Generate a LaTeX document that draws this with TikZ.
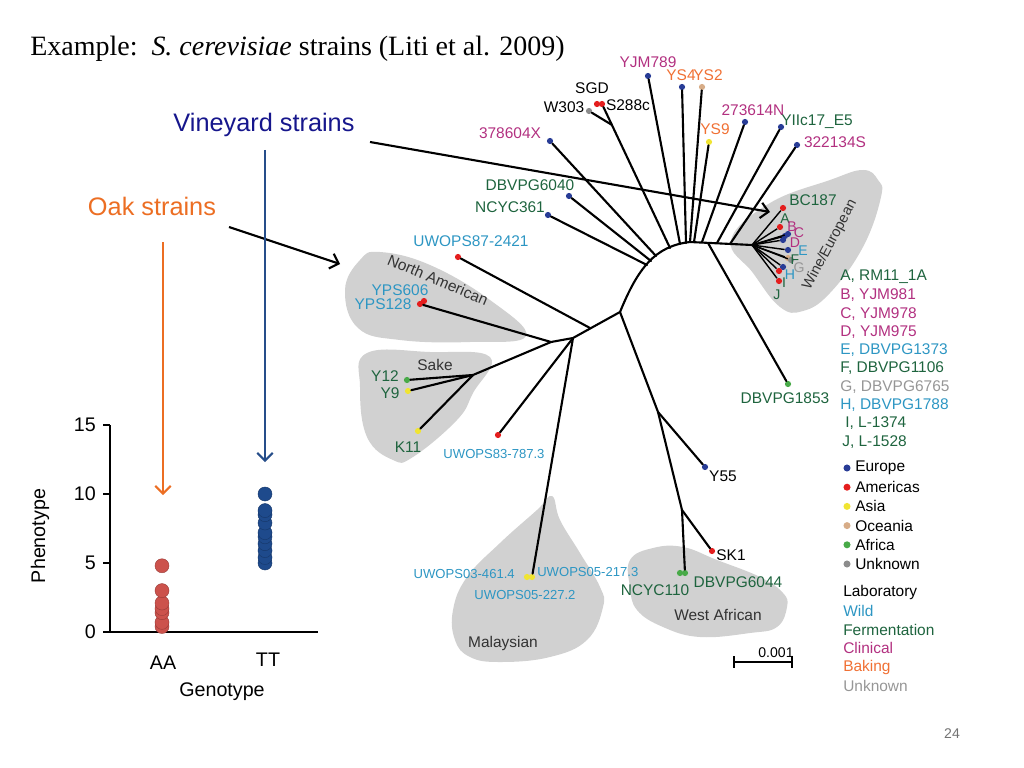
\documentclass[tikz,border=0pt]{standalone}
\usepackage{fontspec}
\setmainfont{Liberation Sans}
\newfontfamily\titlefont{Liberation Serif}
\usetikzlibrary{positioning,arrows.meta}

% colours of the slide
\definecolor{vineyard}{RGB}{22,22,140}
\definecolor{oak}{RGB}{236,110,35}
\definecolor{vineline}{RGB}{38,78,138}
\definecolor{aadot}{RGB}{204,82,76}
\definecolor{ttdot}{RGB}{30,74,140}
% strain source (text colours)
\definecolor{wild}{RGB}{45,150,195}
\definecolor{ferment}{RGB}{30,100,62}
\definecolor{clinical}{RGB}{178,48,128}
\definecolor{baking}{RGB}{240,112,52}
\definecolor{unknowntxt}{RGB}{150,150,150}
% geographic origin (dot colours)
\definecolor{europe}{RGB}{40,60,150}
\definecolor{americas}{RGB}{228,30,30}
\definecolor{asia}{RGB}{240,228,50}
\definecolor{oceania}{RGB}{215,172,135}
\definecolor{africa}{RGB}{72,170,72}
\definecolor{unknowndot}{RGB}{140,140,140}

\tikzset{
  leaf/.style={circle, fill=#1, inner sep=0pt, minimum size=4.4pt},
  branch/.style={line width=1.5pt, line cap=round},
  strain/.style={font=\fontsize{11}{12}\selectfont, inner sep=0pt},
  tiny strain/.style={font=\fontsize{9.3}{10}\selectfont, inner sep=0pt},
  letter/.style={font=\fontsize{10}{10}\selectfont, inner sep=0pt},
  clade/.style={fill=black!18},
  clade name/.style={font=\fontsize{11}{12}\selectfont, text=black!80, inner sep=0pt},
  pointer/.style={line width=1.5pt, -{Straight Barb[length=5.5pt,width=11pt,line width=1.5pt]}},
  plotdot/.style={circle, fill=#1, draw=#1!75!black, line width=0.3pt, inner sep=0pt, minimum size=10pt},
  axislabel/.style={font=\fontsize{14}{15}\selectfont, inner sep=0pt},
}

\begin{document}
\begin{tikzpicture}[x=0.025cm, y=-0.025cm]
\useasboundingbox (0,0) rectangle (1024,768);

% title
\node[anchor=base west, font=\titlefont\fontsize{19.9}{22}\selectfont, inner sep=0pt] (title) at (30,56)
  {Example:\ \ \textit{S. cerevisiae} strains (Liti et al. 2009)};

%%%%%%%%%%%%%%%%%%%%%%%%%%%%%%%%%%%%%%%%%%%%%%%%%%%%%%%%%
% clade shading (behind the tree)
\fill[clade] plot[smooth cycle, tension=0.7] coordinates
  {(731,240) (770,203) (830,180) (863,170) (878,180) (881,197) (863,247) (830,293) (803,311) (780,307) (753,273)};
\fill[clade] plot[smooth cycle, tension=0.7] coordinates
  {(345,290) (360,260) (380,252) (430,265) (490,300) (526,336) (470,342) (400,340) (358,328)};
\fill[clade] plot[smooth cycle, tension=0.7] coordinates
  {(367,353) (430,352) (490,357) (473,393) (457,420) (413,457) (393,460) (367,437) (360,387)};
\fill[clade] plot[smooth cycle, tension=0.7] coordinates
  {(552,496) (537,510) (500,543) (467,577) (453,610) (455,640) (470,657) (500,662) (550,657) (587,640) (603,607) (600,587) (580,553) (560,520)};
\fill[clade] plot[smooth cycle, tension=0.7] coordinates
  {(630,560) (653,548) (683,547) (717,560) (760,577) (783,593) (787,607) (777,627) (750,633) (700,637) (663,627) (637,610) (630,587)};

%%%%%%%%%%%%%%%%%%%%%%%%%%%%%%%%%%%%%%%%%%%%%%%%%%%%%%%%%
% leaves
\node[leaf=europe] (yjm789) at (648,76) {};
\node[leaf=europe] (ys4) at (682,87) {};
\node[leaf=oceania] (ys2) at (702,87) {};
\node[leaf=asia] (ys9) at (709,142) {};
\node[leaf=europe] (n273614) at (745,122) {};
\node[leaf=europe] (yiic) at (781,127) {};
\node[leaf=europe] (s322134) at (797,145) {};
\node[leaf=europe] (x378604) at (550,141) {};
\node[leaf=unknowndot] (w303) at (589,111) {};
\node[leaf=americas] (sgd) at (597,104) {};
\node[leaf=americas] (s288c) at (602,104) {};
\node[leaf=europe] (dbvpg6040) at (569,196) {};
\node[leaf=europe] (ncyc361) at (548,215) {};
\node[leaf=americas] (uwops87) at (458,257) {};
\node[leaf=americas] (yps128) at (420,304) {};
\node[leaf=americas] (yps606) at (424,301) {};
\node[leaf=africa] (y12) at (407,380) {};
\node[leaf=asia] (y9) at (408,391) {};
\node[leaf=asia] (k11) at (418,431) {};
\node[leaf=americas] (uwops83) at (498,435) {};
\node[leaf=asia] (uwops03) at (527,577) {};
\node[leaf=asia] (uwops05) at (532,577) {};
\node[leaf=europe] (y55) at (705,467) {};
\node[leaf=americas] (sk1) at (712,551) {};
\node[leaf=africa] (ncyc110) at (680,573) {};
\node[leaf=africa] (dbvpg6044) at (685,573) {};
\node[leaf=africa] (dbvpg1853) at (788,384) {};
% wine/european fan
\node[leaf=americas] (bc187) at (783,208) {};
\node[leaf=americas] (wA) at (780,227) {};
\node[leaf=europe] (wB) at (785,236) {};
\node[leaf=europe] (wC) at (788,234) {};
\node[leaf=europe] (wD) at (783,240) {};
\node[leaf=europe] (wE) at (788,250) {};
\node[leaf=oceania] (wF) at (788,258) {};
\node[leaf=unknowndot] (wG) at (791,260) {};
\node[leaf=europe] (wH) at (783,267) {};
\node[leaf=americas] (wI) at (779,271) {};
\node[leaf=americas] (wJ) at (779,281) {};

% inner points of the tree
\coordinate (r0) at (620,312);
\coordinate (r1) at (690,242);
\coordinate (w0) at (752,245);
\coordinate (n1) at (573,338);
\coordinate (n2) at (551,342);
\coordinate (s0) at (473,375);
\coordinate (j1) at (658,412);
\coordinate (j2) at (682,510);
\coordinate (u87) at (590,328);
\coordinate (wsplit) at (612,125);

% branches
\draw[branch] (r0) .. controls (638,268) and (655,246) .. (r1) -- (w0);
\draw[branch] (yjm789) -- (680,244);
\draw[branch] (ys4) -- (686,243);
\draw[branch] (ys2) -- (690,242);
\draw[branch] (ys9) -- (694,242);
\draw[branch] (n273614) -- (702,242);
\draw[branch] (yiic) -- (717,243);
\draw[branch] (s322134) -- (730,244);
\draw[branch] (s288c) -- (670,248);
\draw[branch] (w303) -- (wsplit);
\draw[branch] (x378604) -- (656,256);
\draw[branch] (dbvpg6040) -- (651,261);
\draw[branch] (ncyc361) -- (647,265);
\draw[branch] (dbvpg1853) -- (708,243);
\foreach \w in {bc187,wA,wB,wC,wD,wE,wF,wG,wH,wI,wJ}
  \draw[line width=1pt] (w0) -- (\w);
\draw[branch] (r0) -- (n1) -- (n2) -- (yps128);
\draw[branch] (uwops87) -- (u87);
\draw[branch] (n2) -- (s0) -- (y12);
\draw[branch] (s0) -- (y9);
\draw[branch] (s0) -- (k11);
\draw[branch] (n1) -- (uwops83);
\draw[branch] (n1) -- (uwops05);
\draw[branch] (r0) -- (j1) -- (y55);
\draw[branch] (j1) -- (j2) -- (sk1);
\draw[branch] (j2) -- (dbvpg6044);

%%%%%%%%%%%%%%%%%%%%%%%%%%%%%%%%%%%%%%%%%%%%%%%%%%%%%%%%%
% strain names
\node[strain, text=clinical] (tyjm789) at (648,62) {YJM789};
\node[strain, text=baking] (tys4) at (681,75) {YS4};
\node[strain, text=baking] (tys2) at (708,75) {YS2};
\node[strain, text=baking] (tys9) at (715,129) {YS9};
\node[strain, text=clinical] (t273614) at (753,110) {273614N};
\node[strain, text=ferment] (tyiic) at (817,122) {YIIc17\_E5};
\node[strain, text=clinical] (t322134) at (835,142) {322134S};
\node[strain, text=clinical] (t378604) at (510,133) {378604X};
\node[strain] (tsgd) at (592,88) {SGD};
\node[strain] (tw303) at (564,107) {W303};
\node[strain] (ts288c) at (628,105) {S288c};
\node[strain, text=ferment] (t6040) at (530,185) {DBVPG6040};
\node[strain, text=ferment] (t361) at (510,207) {NCYC361};
\node[strain, text=wild] (tuwops87) at (471,241) {UWOPS87-2421};
\node[strain, text=wild] (typs606) at (400,290) {YPS606};
\node[strain, text=wild] (typs128) at (383,304) {YPS128};
\node[strain, text=ferment] (ty12) at (385,376) {Y12};
\node[strain, text=ferment] (ty9) at (390,393) {Y9};
\node[strain, text=ferment] (tk11) at (408,447) {K11};
\node[tiny strain, text=wild] (tuwops83) at (494,454) {UWOPS83-787.3};
\node[tiny strain, text=wild, anchor=east] (tuwops03) at (515,574) {UWOPS03-461.4};
\node[tiny strain, text=wild, anchor=west] (tuwops05a) at (537,572) {UWOPS05-217.3};
\node[tiny strain, text=wild] (tuwops05b) at (525,595) {UWOPS05-227.2};
\node[strain] (ty55) at (723,476) {Y55};
\node[strain] (tsk1) at (731,555) {SK1};
\node[strain, text=ferment] (t110) at (655,590) {NCYC110};
\node[strain, text=ferment] (t6044) at (738,582) {DBVPG6044};
\node[strain, text=ferment] (t1853) at (785,398) {DBVPG1853};
\node[strain, text=ferment] (tbc187) at (813,200) {BC187};
\node[letter, text=ferment] (tA) at (785,219) {A};
\node[letter, text=clinical] (tB) at (792,227) {B};
\node[letter, text=clinical] (tC) at (799,233) {C};
\node[letter, text=clinical] (tD) at (795,243) {D};
\node[letter, text=wild] (tE) at (803,251) {E};
\node[letter, text=ferment] (tF) at (795,260) {F};
\node[letter, text=unknowntxt] (tG) at (799,268) {G};
\node[letter, text=wild] (tH) at (790,275) {H};
\node[letter, text=ferment] (tI) at (784,283) {I};
\node[letter, text=ferment] (tJ) at (777,295) {J};

% clade names
\node[clade name, rotate=62, font=\fontsize{10.3}{11}\selectfont] (wine) at (830,245) {Wine/European};
\node[clade name, rotate=-23] (northam) at (438,280) {North American};
\node[clade name] (sake) at (435,365) {Sake};
\node[clade name] (malay) at (503,643) {Malaysian};
\node[clade name] (westaf) at (718,615) {West African};

% scale bar
\coordinate (barL) at (733,662);
\coordinate (barR) at (793,662);
\draw[line width=1.3pt, {Bar[width=8pt]}-{Bar[width=8pt]}] (barL) -- (barR);
\node[strain, font=\fontsize{10}{11}\selectfont] (bartxt) at (776,653) {0.001};

%%%%%%%%%%%%%%%%%%%%%%%%%%%%%%%%%%%%%%%%%%%%%%%%%%%%%%%%%
% legend: strains of the wine cluster
\foreach \t/\c/\x [count=\i] in {{A, RM11\_1A}/ferment/840, {B, YJM981}/clinical/840,
    {C, YJM978}/clinical/840, {D, YJM975}/clinical/840, {E, DBVPG1373}/wild/840,
    {F, DBVPG1106}/ferment/840, {G, DBVPG6765}/unknowntxt/840, {H, DBVPG1788}/wild/840,
    {I, L-1374}/ferment/845, {J, L-1528}/ferment/842}
  \node[strain, anchor=west, text=\c] (leg\i) at (\x,{277+18.3*(\i-1)}) {\t};

% legend: origin
\foreach \t/\c [count=\i] in {Europe/europe, Americas/americas, Asia/asia,
    Oceania/oceania, Africa/africa, Unknown/unknowndot} {
  \node[leaf=\c, minimum size=5pt] (geo\i) at (847,{468+19.2*(\i-1)}) {};
  \node[strain, anchor=west] (geotxt\i) at (855,{468+19.2*(\i-1)}) {\t};
}

% legend: source
\foreach \t/\c [count=\i] in {Laboratory/black, Wild/wild, Fermentation/ferment,
    Clinical/clinical, Baking/baking, Unknown/unknowntxt}
  \node[strain, anchor=west, text=\c] (src\i) at (843,{592+18.8*(\i-1)}) {\t};

%%%%%%%%%%%%%%%%%%%%%%%%%%%%%%%%%%%%%%%%%%%%%%%%%%%%%%%%%
% call-outs
\node[anchor=base, font=\fontsize{18}{20}\selectfont, text=vineyard, inner sep=0pt] (vinlabel) at (264,132) {Vineyard strains};
\node[anchor=base, font=\fontsize{18}{20}\selectfont, text=oak, inner sep=0pt] (oaklabel) at (152,215) {Oak strains};
\coordinate (vinTail) at (370,142);
\coordinate (vinHead) at (770,212);
\coordinate (oakTail) at (229,227);
\coordinate (oakHead) at (340,264);
\draw[pointer] (vinTail) -- (vinHead);
\draw[pointer] (oakTail) -- (oakHead);

% genotype call-outs
\coordinate (ttTop) at (265,150);
\coordinate (ttTip) at (265,462);
\coordinate (aaTop) at (163,242);
\coordinate (aaTip) at (163,495);
\draw[pointer, draw=vineline, line width=1.7pt] (ttTop) -- (ttTip);
\draw[pointer, draw=oak, line width=1.7pt] (aaTop) -- (aaTip);

%%%%%%%%%%%%%%%%%%%%%%%%%%%%%%%%%%%%%%%%%%%%%%%%%%%%%%%%%
% phenotype plot
\coordinate (origin) at (110,632);
\coordinate (yTop) at (110,425);
\coordinate (xEnd) at (318,632);
\draw[line width=0.8pt] (yTop) -- (origin) -- (xEnd);
\foreach \v in {0,5,10,15} {
  \draw[line width=0.8pt] (103,{632-13.8*\v}) -- (110,{632-13.8*\v});
  \node[axislabel, anchor=east] (tick\v) at (96,{632-13.8*\v}) {\v};
}
\foreach \v [count=\i] in {0.4,0.7,1.4,1.7,2.1,3.0,4.8}
  \node[plotdot=aadot] (aa\i) at (162,{632-13.8*\v}) {};
\foreach \v [count=\i] in {5.0,5.4,5.9,6.4,6.9,7.2,7.9,8.5,8.8,10}
  \node[plotdot=ttdot] (tt\i) at (265,{632-13.8*\v}) {};
\node[axislabel] (aa) at (163,663) {AA};
\node[axislabel] (tt) at (268,660) {TT};
\node[axislabel] (genotype) at (222,692) {Genotype};
\node[axislabel, rotate=90] (phenotype) at (40,536) {Phenotype};

% slide number
\node[font=\fontsize{10}{11}\selectfont, text=black!55] (page) at (952,734) {24};

\end{tikzpicture}
\end{document}
